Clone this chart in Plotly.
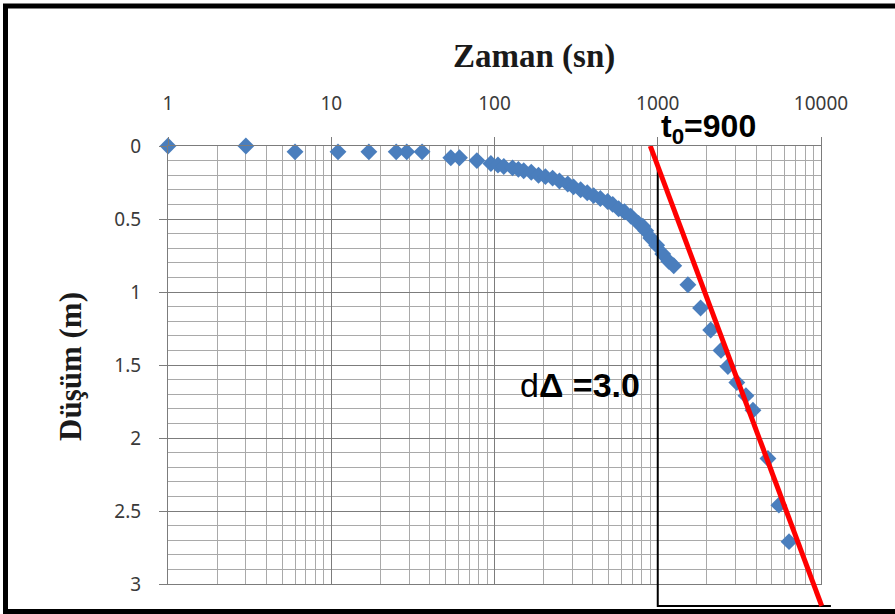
import math
import plotly.graph_objects as go

# Pumping test: elapsed time (s) and drawdown (m)
zaman_sn = [1, 3, 6, 11, 17, 25, 29, 36, 54, 61, 78, 95, 105, 114, 129, 140, 151,
            168, 186, 205, 227, 250, 281, 305, 337, 370, 405, 445, 493, 530, 576,
            625, 683, 764, 810, 844, 906, 985, 1073, 1168, 1253, 1530, 1830, 2110,
            2440, 2690, 3050, 3470, 3830, 4730, 5520, 6370]
dusum_m = [0, 0, 0.04, 0.04, 0.04, 0.04, 0.04, 0.04, 0.08, 0.08, 0.10, 0.12, 0.13,
           0.14, 0.15, 0.16, 0.17, 0.18, 0.20, 0.21, 0.22, 0.24, 0.26, 0.28, 0.30,
           0.32, 0.34, 0.36, 0.38, 0.40, 0.43, 0.45, 0.48, 0.53, 0.55, 0.58, 0.63,
           0.68, 0.74, 0.79, 0.82, 0.95, 1.11, 1.26, 1.40, 1.51, 1.62, 1.71, 1.81,
           2.14, 2.46, 2.71]

# Cooper-Jacob straight line fit
t0 = 900          # s, intercept at zero drawdown
d_delta = 3.0     # m, drawdown per log cycle
s_end = 3.15      # line is drawn slightly past the last gridline
cycle_start = 1000
cycle_box_end = 11500
box_top = 0.13

x_ticks = [1, 10, 100, 1000, 10000]
y_ticks = [0, 0.5, 1, 1.5, 2, 2.5, 3]

W, H = 895, 614
ML, MR, MT, MB = 168, 55, 146, 6
PW, PH = W - ML - MR, H - MT - MB
GRID_W, GRID_H = 653, 438           # main grid size in pixels

def px(x):
    return (x - ML) / PW

def py(y):
    return (H - MB - y) / PH

fig = go.Figure()

fig.add_trace(go.Scatter(
    x=zaman_sn, y=dusum_m, mode="markers",
    marker=dict(symbol="diamond", size=13, color="#4A7EBD", line=dict(width=0)),
    cliponaxis=False, showlegend=False, xaxis="x", yaxis="y"))

# straight-line fit and the one log-cycle bracket, on an overlay axis pair
# that runs a little past the grid
t_end = t0 * 10 ** (s_end / d_delta)
fig.add_trace(go.Scatter(
    x=[cycle_start, cycle_start, cycle_box_end], y=[box_top, s_end, s_end],
    mode="lines", line=dict(color="black", width=2),
    showlegend=False, xaxis="x2", yaxis="y2"))
fig.add_trace(go.Scatter(
    x=[t0, t_end], y=[0, s_end], mode="lines",
    line=dict(color="#FF0000", width=5),
    showlegend=False, xaxis="x2", yaxis="y2"))

major_grid = "#7c7c7c"
minor_grid = "#a9a9a9"
tick_font = dict(family="Noto Sans, Open Sans, sans-serif", size=19, color="#3a3a3a")

fig.update_layout(
    width=W, height=H,
    margin=dict(l=ML, r=MR, t=MT, b=MB, autoexpand=False),
    paper_bgcolor="white", plot_bgcolor="rgba(0,0,0,0)",
    xaxis=dict(
        type="log", range=[0, 4], domain=[0, GRID_W / PW], side="top",
        tickmode="array", tickvals=x_ticks, ticktext=[str(v) for v in x_ticks],
        ticks="outside", ticklen=8, tickcolor=major_grid,
        ticklabelstandoff=19,
        showgrid=True, gridcolor=major_grid, gridwidth=1.3,
        minor=dict(dtick="D1", showgrid=True, gridcolor=minor_grid, gridwidth=1, ticks=""),
        showline=True, linecolor=major_grid, mirror=True,
        tickfont=tick_font, anchor="y", zeroline=False, automargin=False),
    yaxis=dict(
        range=[3, 0], domain=[(PH - GRID_H) / PH, 1],
        tickmode="array", tickvals=y_ticks, ticktext=[f"{v:g}" for v in y_ticks],
        ticks="outside", ticklen=8, tickcolor=major_grid,
        ticklabelstandoff=14,
        showgrid=True, gridcolor=major_grid, gridwidth=1.3,
        minor=dict(dtick=0.1, tick0=0, showgrid=True, gridcolor=minor_grid, gridwidth=1, ticks=""),
        showline=True, linecolor=major_grid, mirror=True,
        tickfont=tick_font, anchor="x", zeroline=False, automargin=False),
    xaxis2=dict(type="log", range=[0, 4 * PW / GRID_W], domain=[0, 1],
                visible=False, anchor="y2", automargin=False),
    yaxis2=dict(range=[3 * PH / GRID_H, 0], domain=[0, 1],
                visible=False, anchor="x2", automargin=False),
)

fig.add_annotation(text="<b>Zaman (sn)</b>", xref="paper", yref="paper",
                   x=px(534), y=py(57), xanchor="center", yanchor="middle",
                   showarrow=False,
                   font=dict(family="Liberation Serif, serif", size=33, color="#1a1a1a"))
fig.add_annotation(text="<b>Düşüm (m)</b>", xref="paper", yref="paper",
                   x=px(70), y=py(367), xanchor="center", yanchor="middle",
                   showarrow=False, textangle=-90,
                   font=dict(family="Liberation Serif, serif", size=31, color="#1a1a1a"))
fig.add_annotation(text="<b>t<sub>0</sub>=900</b>", xref="x", yref="paper",
                   x=math.log10(cycle_start), y=py(128), xanchor="left",
                   yanchor="middle", xshift=1, showarrow=False,
                   font=dict(family="Liberation Sans Narrow, Liberation Sans, sans-serif",
                             size=32, color="black"))
fig.add_annotation(text="d<b>Δ =3.0</b>", xref="x", yref="y",
                   x=math.log10(cycle_start), y=1.64, xanchor="right",
                   yanchor="middle", xshift=-16, showarrow=False,
                   font=dict(family="Liberation Sans, Arial, sans-serif", size=34, color="black"))

# black frame around the chart
fig.add_shape(type="rect", xref="paper", yref="paper",
              x0=px(5.5), x1=px(W + 10), y0=py(611.5), y1=py(6),
              line=dict(color="black", width=5), fillcolor="rgba(0,0,0,0)", layer="above")

fig.write_html("out.html")
